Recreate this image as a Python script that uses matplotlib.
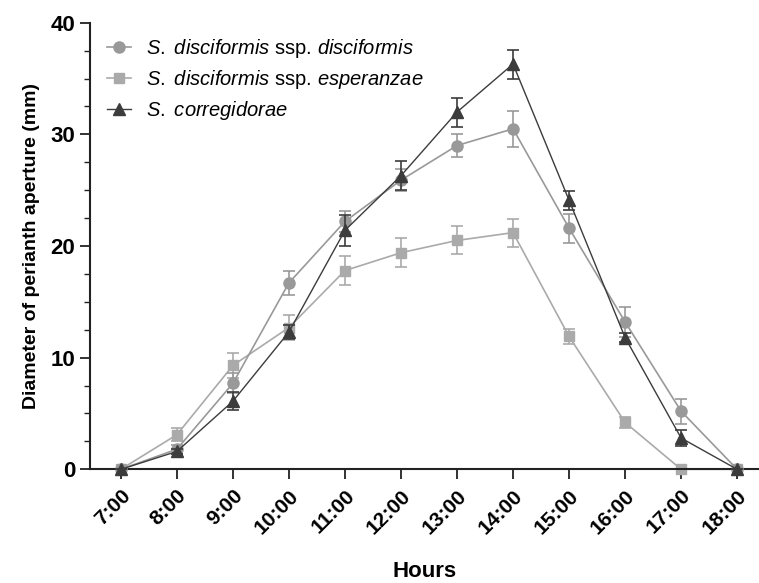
import numpy as np
import matplotlib.pyplot as plt

plt.rcParams['font.family'] = 'Liberation Sans'
plt.rcParams['mathtext.fontset'] = 'custom'
plt.rcParams['mathtext.it'] = 'Liberation Sans:italic'
plt.rcParams['mathtext.rm'] = 'Liberation Sans'

hours = ["7:00", "8:00", "9:00", "10:00", "11:00", "12:00", "13:00",
         "14:00", "15:00", "16:00", "17:00", "18:00"]

disc = [0, 1.8, 7.7, 16.7, 22.2, 25.9, 29.0, 30.5, 21.6, 13.2, 5.2, 0]
disc_err = [0, 0.4, 0.9, 1.1, 0.9, 1.0, 1.0, 1.6, 1.3, 1.35, 1.1, 0]

esp = [0, 3.1, 9.3, 12.7, 17.8, 19.4, 20.5, 21.2, 11.9, 4.2, 0, 0]
esp_err = [0, 0.6, 1.1, 1.15, 1.3, 1.3, 1.25, 1.25, 0.65, 0.5, 0, 0]

corr = [0, 1.6, 6.1, 12.3, 21.4, 26.3, 32.0, 36.3, 24.1, 11.8, 2.8, 0]
corr_err = [0, 0.2, 0.8, 0.6, 1.4, 1.3, 1.3, 1.3, 0.85, 0.4, 0.7, 0]

labels = [r"$\it{S.\ disciformis}$ ssp. $\it{disciformis}$",
          r"$\it{S.\ disciformis}$ ssp. $\it{esperanzae}$",
          r"$\it{S.\ corregidorae}$"]

fig = plt.figure(figsize=(7.59, 5.83), dpi=100)
ax = fig.add_axes([0.1186, 0.195, 0.8814, 0.766])

x = np.arange(len(hours))
handles = []
for y, e, c, m, ms, lw, z in [(disc, disc_err, "#999999", "o", 8, 1.2, 3),
                              (esp, esp_err, "#aaaaaa", "s", 7.5, 1.2, 2),
                              (corr, corr_err, "#3c3c3c", "^", 8, 1.0, 4)]:
    cont = ax.errorbar(x, y, yerr=e, color=c, marker=m, ms=ms, lw=lw,
                       capsize=4.5, elinewidth=1.2, capthick=1.2, zorder=z)
    for art in cont.lines[0:1] + tuple(cont.lines[1]) + tuple(cont.lines[2]):
        art.set_clip_on(False)
    handles.append(cont.lines[0])

ax.set_xlim(-0.55, 11.39)
ax.set_ylim(0, 40)
ax.set_yticks([0, 10, 20, 30, 40])
ax.set_yticks(np.arange(0, 40.1, 2.5), minor=True)
ax.set_xticks(x)
ax.set_xticklabels(hours, rotation=45, ha="right", rotation_mode="anchor",
                   fontsize=15, fontweight="bold")
for t in ax.get_yticklabels():
    t.set_fontsize(16)
    t.set_fontweight("bold")

ax.spines["top"].set_visible(False)
ax.spines["right"].set_visible(False)
for s in ["left", "bottom"]:
    ax.spines[s].set_linewidth(1.5)
    ax.spines[s].set_color("#222222")
ax.tick_params(axis="both", which="major", length=7, width=1.3, color="#222222")
ax.tick_params(axis="y", which="minor", length=4, width=1.0, color="#222222")
ax.tick_params(axis="x", pad=5)

ax.set_ylabel("Diameter of perianth aperture (mm)", fontsize=14, fontweight="bold", labelpad=8)
ax.set_xlabel("Hours", fontsize=16, fontweight="bold", labelpad=17)

ax.legend(handles, labels, loc="upper left", bbox_to_anchor=(0.005, 1.0), frameon=False,
          fontsize=14.5, handlelength=1.15, handletextpad=0.75, labelspacing=0.4,
          borderaxespad=0.3)

plt.savefig("out.png", dpi=100)
